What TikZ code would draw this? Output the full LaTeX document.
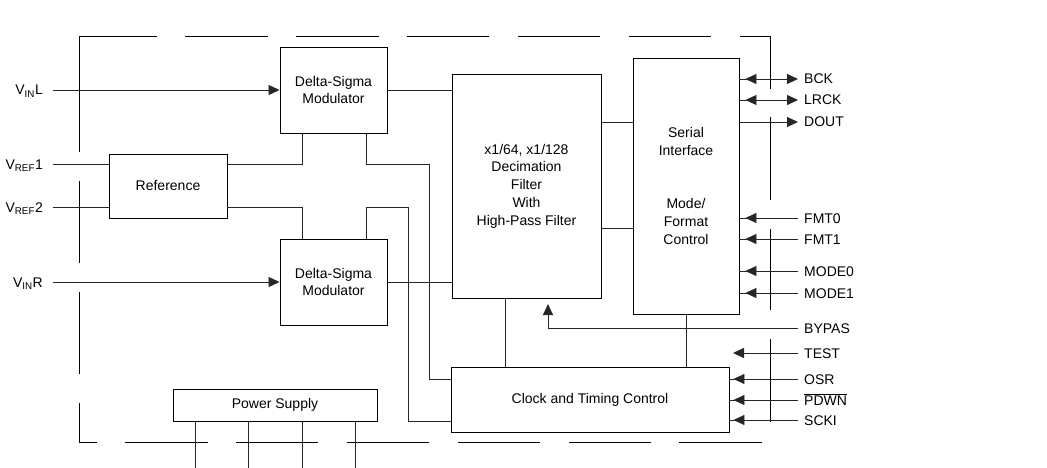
\documentclass[tikz,border=0pt]{standalone}
\usepackage{fontspec}
\setmainfont{Liberation Sans}
\usetikzlibrary{arrows.meta,decorations.markings}
\begin{document}
\begin{tikzpicture}[x=1pt,y=-1pt,
  >={Triangle[length=11pt,width=10pt]},
  blk/.style={draw=black,line width=0.9pt,inner sep=0pt,align=center,font=\fontsize{14}{17.8}\selectfont},
  lbl/.style={inner sep=0pt,text height=10pt,text depth=0pt,font=\fontsize{14}{17}\selectfont},
  ln/.style={draw=black!85,line width=0.85pt},
  bd/.style={draw=black,line width=0.9pt},
  tipin/.style={postaction={decorate},decoration={markings,mark=at position #1 with {\arrow{>}}}},
  tiprev/.style={postaction={decorate},decoration={markings,mark=at position #1 with {\arrowreversed{>}}}}
]
\useasboundingbox (0,0) rectangle (1047,468);

% dashed border
\draw[bd] (79,152) -- (79,36) -- (157,36);
\foreach \a/\b in {185/268,296/379,407/489,518/600,629/711} \draw[bd] (\a,36) -- (\b,36);
\draw[bd] (740,36) -- (770,36) -- (770,89);
\foreach \a/\b in {117/200,229/310,339/422} \draw[bd] (770,\a) -- (770,\b);
\foreach \a/\b in {125/208,236/318,347/429,458/540,569/651,679/762} \draw[bd] (\a,442) -- (\b,442);
\draw[bd] (79,403) -- (79,442) -- (97,442);
\foreach \a/\b in {181/263,292/374} \draw[bd] (79,\a) -- (79,\b);

% blocks
\node[blk,minimum width=107pt,minimum height=86pt] (dsa) at (333.5,90) {Delta-Sigma\\Modulator};
\node[blk,minimum width=107pt,minimum height=86pt] (dsb) at (333.5,282) {Delta-Sigma\\Modulator};
\node[blk,minimum width=118pt,minimum height=64pt] (ref) at (168,186) {Reference};
\node[blk,minimum width=149pt,minimum height=224pt] (dec) at (526.5,186) {x1/64, x1/128\\Decimation\\Filter\\With\\High-Pass Filter};
\node[blk,minimum width=106pt,minimum height=256pt] (ser) at (686,186) {Serial\\Interface\\[35.6pt]Mode/\\Format\\Control};
\node[blk,minimum width=278pt,minimum height=65pt] (clk) at (590,399.5) {Clock and Timing Control};
\node[blk,minimum width=204pt,minimum height=32pt] (ps) at (275,405) {Power Supply};

% left labels
\node[lbl,anchor=east] (vinl) at (43,90) {V\textsubscript{IN}L};
\node[lbl,anchor=east] (vref1) at (43,164) {V\textsubscript{REF}1};
\node[lbl,anchor=east] (vref2) at (43,207) {V\textsubscript{REF}2};
\node[lbl,anchor=east] (vinr) at (43,282) {V\textsubscript{IN}R};

% right labels
\node[lbl,anchor=west] (bck) at (804,79) {BCK};
\node[lbl,anchor=west] (lrck) at (804,100) {LRCK};
\node[lbl,anchor=west] (dout) at (804,122) {DOUT};
\node[lbl,anchor=west] (fmt0) at (804,218) {FMT0};
\node[lbl,anchor=west] (fmt1) at (804,239) {FMT1};
\node[lbl,anchor=west] (mode0) at (804,271) {MODE0};
\node[lbl,anchor=west] (mode1) at (804,293) {MODE1};
\node[lbl,anchor=west] (bypas) at (804,328) {BYPAS};
\node[lbl,anchor=west] (test) at (804,353) {TEST};
\node[lbl,anchor=west] (osr) at (804,379) {OSR};
\node[lbl,anchor=west] (pdwn) at (804,400) {$\overline{\hbox{PDWN}}$};
\node[lbl,anchor=west] (scki) at (804,420) {SCKI};

\coordinate (ra) at (429,164);
\coordinate (rb) at (408,207);
\coordinate (bypend) at (548,304);
\coordinate (testend) at (733,353);

% input connectors
\draw[ln,->] ([xshift=10pt]vinl.east) -- (dsa.west);
\draw[ln,->] ([xshift=10pt]vinr.east) -- (dsb.west);
\draw[ln] ([xshift=10pt]vref1.east) -- (vref1.east -| ref.west);
\draw[ln] ([xshift=10pt]vref2.east) -- (vref2.east -| ref.west);
\draw[ln] (vref1.east -| ref.east) -| ([xshift=-31.5pt]dsa.south);
\draw[ln] (vref2.east -| ref.east) -| ([xshift=-31.5pt]dsb.north);
\draw[ln] ([xshift=32.5pt]dsa.south) |- (ra) |- ([yshift=20.5pt]clk.west);
\draw[ln] ([xshift=32.5pt]dsb.north) |- (rb) |- ([yshift=-21.5pt]clk.west);

% internal connectors
\draw[ln] (dsa.east) -- (dsa.east -| dec.west);
\draw[ln] (dsb.east) -- (dsb.east -| dec.west);
\draw[ln] ([yshift=64pt]dec.east) -- ([yshift=64pt]dec.east -| ser.west);
\draw[ln] ([yshift=-42pt]dec.east) -- ([yshift=-42pt]dec.east -| ser.west);
\draw[ln] ([xshift=-21.5pt]dec.south) -- ([xshift=-21.5pt]dec.south |- clk.north);
\draw[ln] (ser.south) -- (ser.south |- clk.north);

% right connectors
\draw[ln,->,tiprev=6pt] (ser.east |- bck.west) -- ([xshift=-6pt]bck.west);
\draw[ln,->,tiprev=6pt] (ser.east |- lrck.west) -- ([xshift=-6pt]lrck.west);
\draw[ln,->] (ser.east |- dout.west) -- ([xshift=-6pt]dout.west);
\foreach \s in {fmt0,fmt1,mode0,mode1}
  \draw[ln,tipin=-6pt] ([xshift=-6pt]\s.west) -- (\s.west -| ser.east);
\draw[ln,->] ([xshift=-6pt]bypas.west) -| (bypend);
\draw[ln,->] ([xshift=-6pt]test.west) -- (testend);
\foreach \s in {osr,pdwn,scki}
  \draw[ln,tipin=-4pt] ([xshift=-6pt]\s.west) -- (\s.west -| clk.east);

% power supply leads
\foreach \dx in {-80,-27,27,80}
  \draw[ln] ([xshift=\dx pt]ps.south) -- ++(0,47);
\end{tikzpicture}
\end{document}
